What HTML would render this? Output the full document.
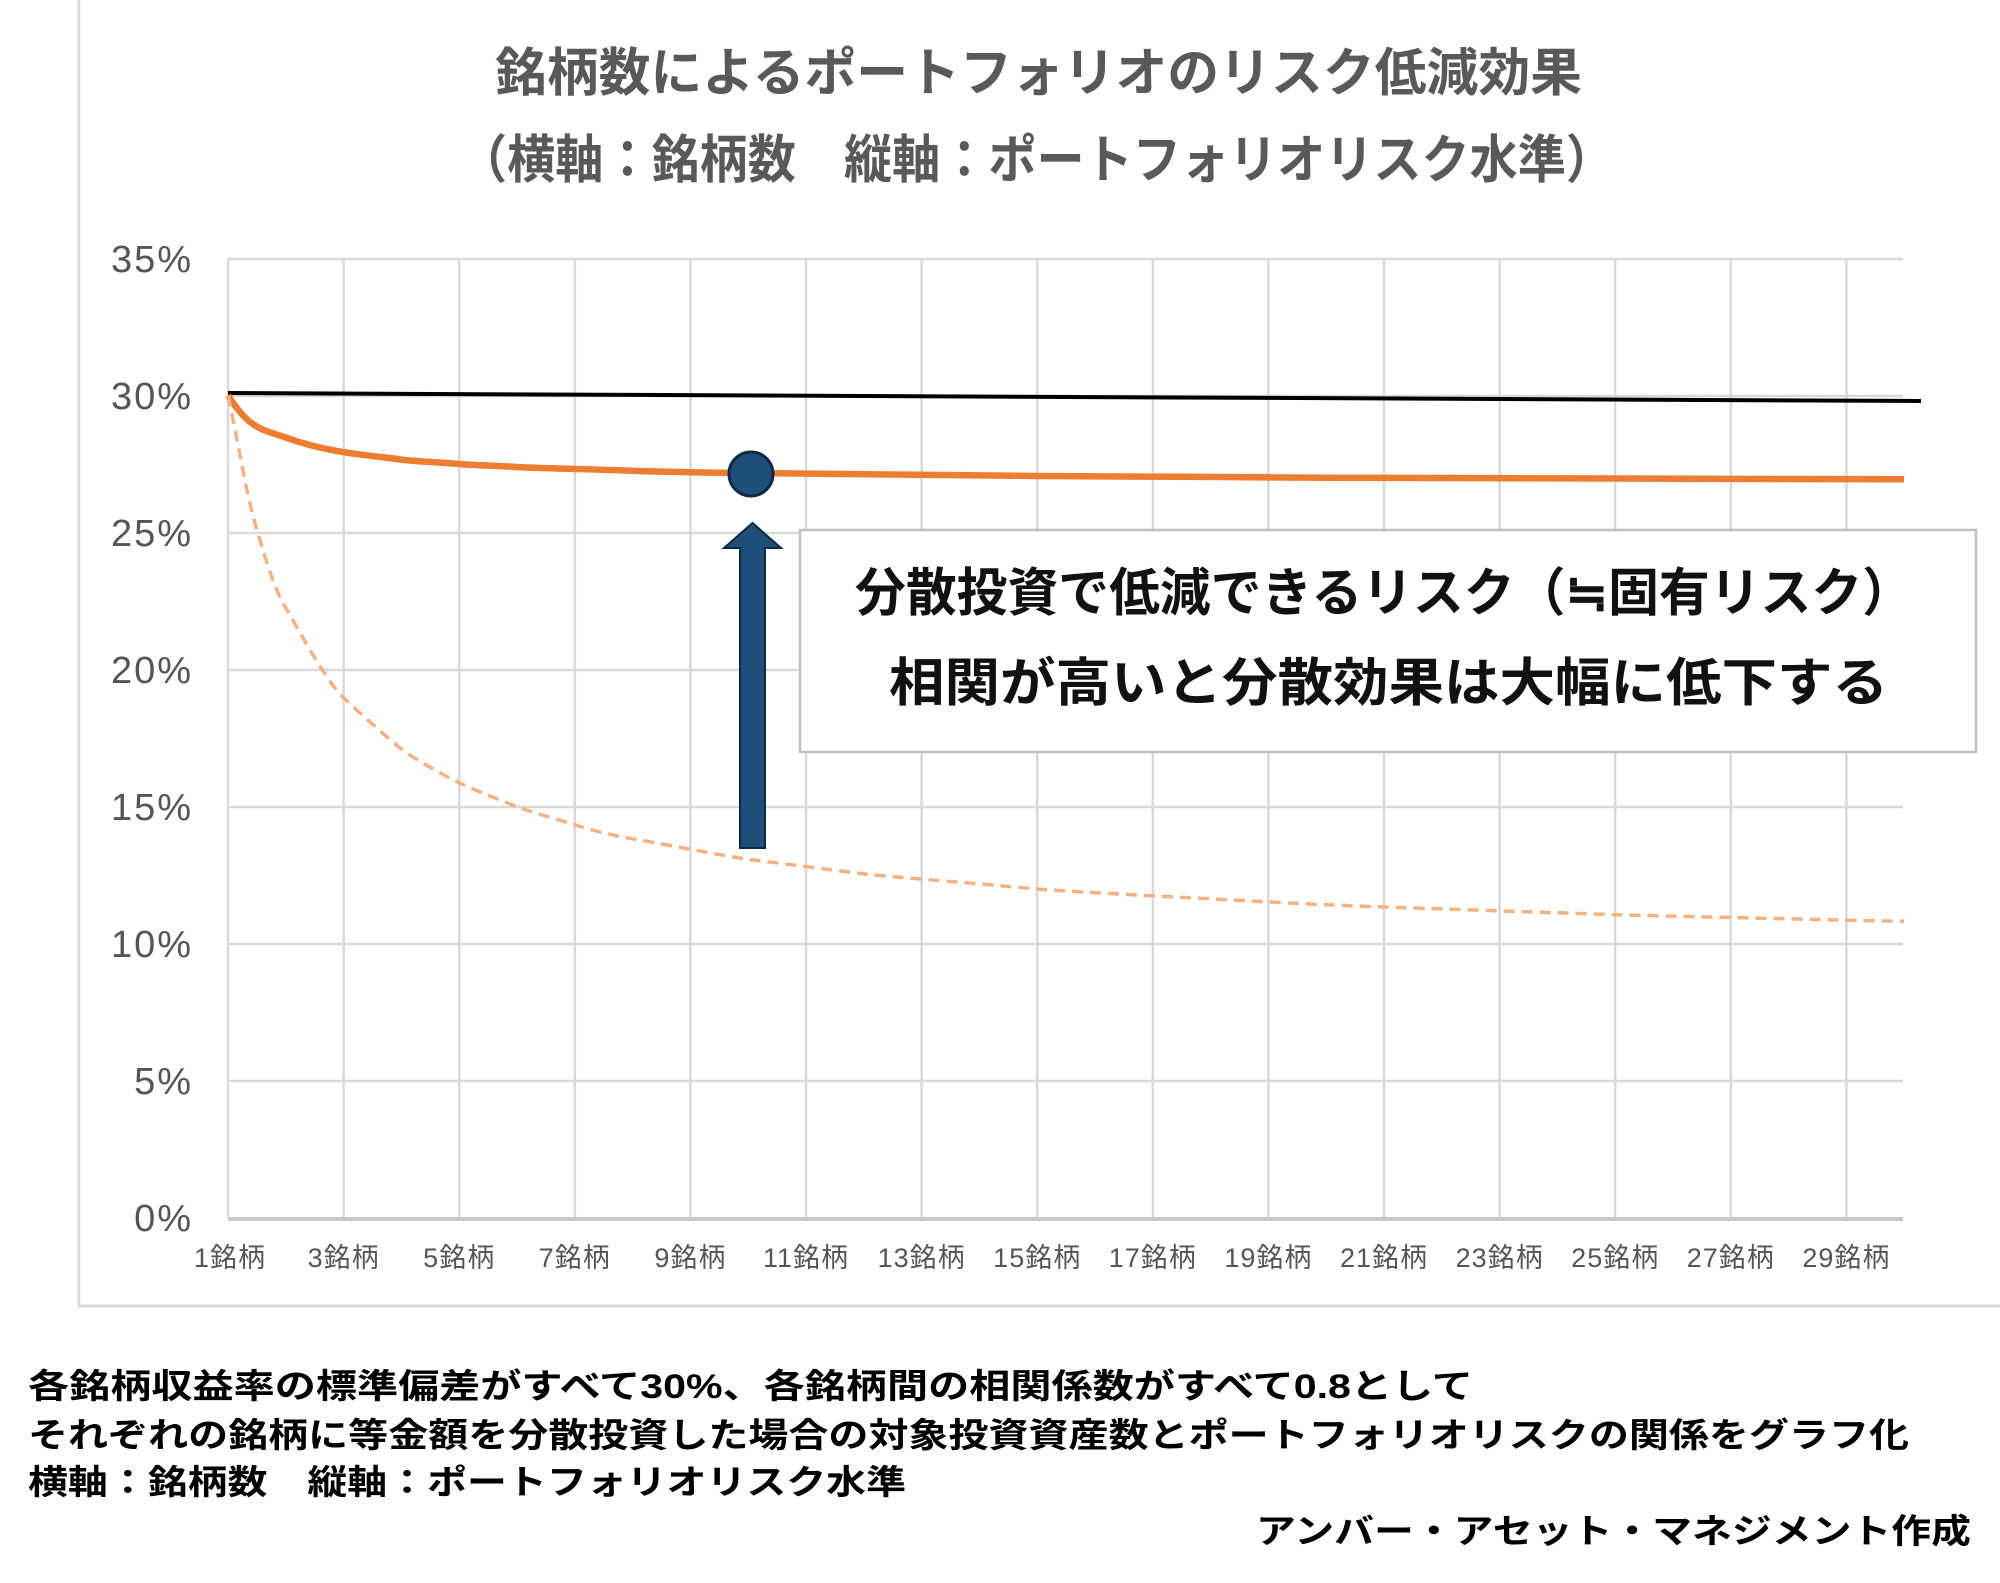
<!DOCTYPE html>
<html><head><meta charset="utf-8"><style>
html,body{margin:0;padding:0;background:#fff;}
body{width:2000px;height:1583px;overflow:hidden;position:relative;font-family:"Liberation Sans","Noto Sans CJK JP",sans-serif;}
</style></head><body>
<svg width="2000" height="1583" viewBox="0 0 2000 1583" xmlns="http://www.w3.org/2000/svg" style="position:absolute;left:0;top:0">
<rect x="79" y="-5" width="1940" height="1311" fill="#fff" stroke="#d9d9d9" stroke-width="3"/>
<g font-family="Liberation Sans, Noto Sans CJK JP, sans-serif" font-weight="bold" fill="#595959" font-size="52">
<text x="495" y="91" textLength="1087" lengthAdjust="spacingAndGlyphs">銘柄数によるポートフォリオのリスク低減効果</text>
<text x="459" y="178" textLength="1155" lengthAdjust="spacingAndGlyphs">（横軸：銘柄数　縦軸：ポートフォリオリスク水準）</text>
</g>
<g stroke="#d9d9d9" stroke-width="2.5">
<line x1="228" y1="259" x2="1903" y2="259"/>
<line x1="228" y1="396" x2="1903" y2="396"/>
<line x1="228" y1="533" x2="1903" y2="533"/>
<line x1="228" y1="670" x2="1903" y2="670"/>
<line x1="228" y1="807" x2="1903" y2="807"/>
<line x1="228" y1="944" x2="1903" y2="944"/>
<line x1="228" y1="1081" x2="1903" y2="1081"/>
<line x1="228" y1="259" x2="228" y2="1218"/>
<line x1="343.6" y1="259" x2="343.6" y2="1218"/>
<line x1="459.2" y1="259" x2="459.2" y2="1218"/>
<line x1="574.8" y1="259" x2="574.8" y2="1218"/>
<line x1="690.4" y1="259" x2="690.4" y2="1218"/>
<line x1="806" y1="259" x2="806" y2="1218"/>
<line x1="921.6" y1="259" x2="921.6" y2="1218"/>
<line x1="1037.2" y1="259" x2="1037.2" y2="1218"/>
<line x1="1152.8" y1="259" x2="1152.8" y2="1218"/>
<line x1="1268.4" y1="259" x2="1268.4" y2="1218"/>
<line x1="1384" y1="259" x2="1384" y2="1218"/>
<line x1="1499.6" y1="259" x2="1499.6" y2="1218"/>
<line x1="1615.2" y1="259" x2="1615.2" y2="1218"/>
<line x1="1730.8" y1="259" x2="1730.8" y2="1218"/>
<line x1="1846.4" y1="259" x2="1846.4" y2="1218"/>
</g>
<line x1="228" y1="1219" x2="1903" y2="1219" stroke="#c8c8c8" stroke-width="4"/>
<g font-size="38" fill="#555" text-anchor="end" letter-spacing="2">
<text x="193" y="272">35%</text><text x="193" y="409">30%</text><text x="193" y="546">25%</text>
<text x="193" y="683">20%</text><text x="193" y="820">15%</text><text x="193" y="957">10%</text>
<text x="193" y="1094">5%</text><text x="193" y="1231">0%</text>
</g>
<g font-size="27" fill="#555" text-anchor="middle" letter-spacing="1">
<text x="230" y="1267">1銘柄</text><text x="343.6" y="1267">3銘柄</text><text x="459.2" y="1267">5銘柄</text>
<text x="574.8" y="1267">7銘柄</text><text x="690.4" y="1267">9銘柄</text><text x="806" y="1267">11銘柄</text>
<text x="921.6" y="1267">13銘柄</text><text x="1037.2" y="1267">15銘柄</text><text x="1152.8" y="1267">17銘柄</text>
<text x="1268.4" y="1267">19銘柄</text><text x="1384" y="1267">21銘柄</text><text x="1499.6" y="1267">23銘柄</text>
<text x="1615.2" y="1267">25銘柄</text><text x="1730.8" y="1267">27銘柄</text><text x="1846.4" y="1267">29銘柄</text>
</g>
<line x1="228" y1="393" x2="1921" y2="401" stroke="#000" stroke-width="4"/>
<path d="M228,395.4 C250,430 262,429 285.8,437.6 S330,450 343.6,452.2 S390,458 401.4,459.6 S450,463 459.2,464 S505,466 517,467 S620,470 632.6,470.8 S740,473 748.2,473 S1020,476 1037.2,476 S1300,477.5 1326.2,477.7 S1880,479.2 1904,479.3" fill="none" stroke="#ed7d31" stroke-width="6.5"/>
<path d="M228,395.4 C240,450 245,490 256.9,529.8 S275,590 285.8,607.9 S325,680 343.6,697.8 S390,740 401.4,749.1 S445,776 459.2,782.8 S505,802 517,806.7 S560,820 574.8,824.8 S615,836 632.6,838.8 S730,857 748.2,859.3 S850,872 863.8,873.9 S1020,887 1037.2,889 S1300,903.5 1326.2,904.8 S1595,914 1615.2,914.7 S1880,921 1904,921.3" fill="none" stroke="#f4b183" stroke-width="3.5" stroke-dasharray="11 7"/>
<circle cx="751" cy="474" r="22" fill="#1f4e79" stroke="#0d2a45" stroke-width="3"/>
<polygon points="740,848 765,848 765,548 781,548 752.5,523 724,548 740,548" fill="#1f4e79" stroke="#0d2a45" stroke-width="2"/>
<rect x="800" y="530" width="1176" height="222" fill="#fff" stroke="#bfbfbf" stroke-width="2.5"/>
<g font-size="52" font-weight="bold" fill="#111">
<text x="855" y="611" textLength="1058" lengthAdjust="spacingAndGlyphs">分散投資で低減できるリスク（≒固有リスク）</text>
<text x="889" y="701" textLength="999" lengthAdjust="spacingAndGlyphs">相関が高いと分散効果は大幅に低下する</text>
</g>
<g font-size="34" font-weight="bold" fill="#000">
<text x="28" y="1398" textLength="1445" lengthAdjust="spacingAndGlyphs">各銘柄収益率の標準偏差がすべて30%、各銘柄間の相関係数がすべて0.8として</text>
<text x="28" y="1447" textLength="1881" lengthAdjust="spacingAndGlyphs">それぞれの銘柄に等金額を分散投資した場合の対象投資資産数とポートフォリオリスクの関係をグラフ化</text>
<text x="28" y="1494" textLength="878" lengthAdjust="spacingAndGlyphs">横軸：銘柄数　縦軸：ポートフォリオリスク水準</text>
<text x="1256" y="1543" textLength="715" lengthAdjust="spacingAndGlyphs">アンバー・アセット・マネジメント作成</text>
</g>
</svg>
</body></html>
